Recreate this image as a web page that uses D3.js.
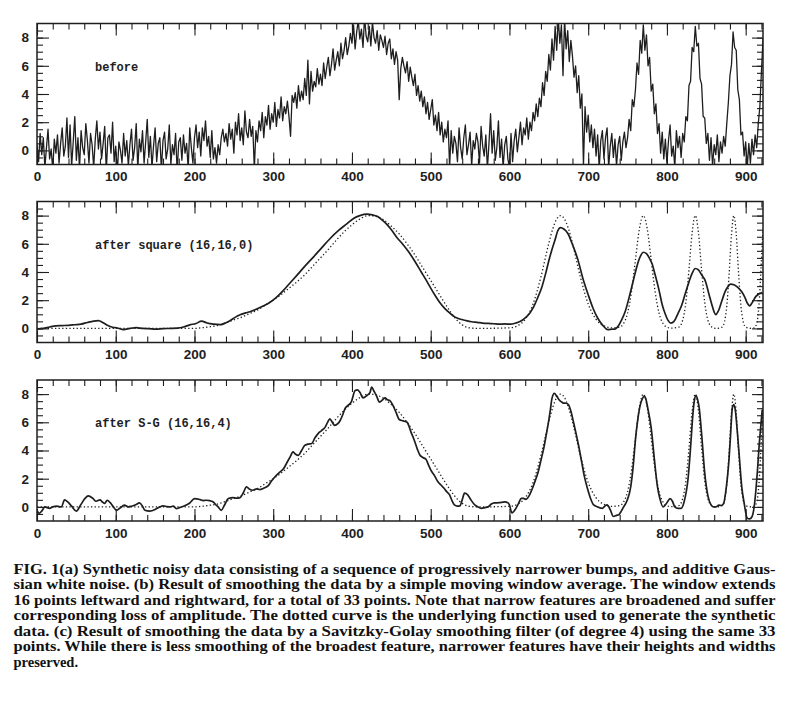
<!DOCTYPE html>
<html>
<head>
<meta charset="utf-8">
<script src="https://cdn.jsdelivr.net/npm/d3@7"></script>
<style>
  body { margin: 0; background: #fff; }
  svg { display: block; }
</style>
</head>
<body>
<svg id="chart" width="786" height="725"></svg>
<script>
// ---- datos ----
const xTickValues = [0, 100, 200, 300, 400, 500, 600, 700, 800, 900];
const yTickValues = [0, 2, 4, 6, 8];
const panelLabels = ["before", "after square (16,16,0)", "after S-G (16,16,4)"];

// datos ruidosos (panel a), una muestra cada 2 unidades desde 0
const noisyStep = 2;
const noisyData = [
  0.4, -0.8, 1.2, -0.3, 0.9, -1.2, 0.2, 1.5, -0.6, 0.1, -1.4, 0.8, -0.2, 1.1, -0.9, 0.5, 1.6, -0.4, 0.3, 2.3,
  -0.5, 1.8, -1.1, 0.6, 2.4, -0.7, 0.9, -1.3, 1.4, 0.2, -0.3, 1.9, 0.7, -0.9, 1.2, 0.4, -1.2, 0.8, 2.1, 0.1,
  1.3, -0.6, 0.5, 1.7, -1.5, 0.9, 1.1, -0.2, 2.0, -0.8, 0.3, -1.6, 0.6, 0.0, -0.9, 1.2, -0.4, 0.7, -1.1, 0.4,
  1.5, -0.7, 0.2, 1.9, -1.3, 0.8, -0.1, 1.4, -0.9, 0.6, 2.2, -0.5, 1.0, -1.2, 0.3, 1.6, -0.8, 0.5, 0.9, -1.4,
  0.7, 1.3, -0.6, 0.1, 1.8, -1.0, 0.4, -0.3, 1.2, -1.5, 0.6, 0.9, -0.7, 1.1, -0.2, 0.5, -1.3, 1.6, 0.2, -0.9,
  0.9, 1.8, 0.2, 1.3, -0.4, 1.6, 0.7, 2.1, 0.3, 1.0, -0.5, 1.4, -0.6, 0.2, -0.9, 0.4, -0.3, 0.9, 1.5, 0.6,
  1.2, 0.3, 1.9, 0.8, 1.5, -0.2, 2.0, 1.1, 2.6, 0.7, 1.6, 0.4, 2.8, 1.3, 0.9, 2.2, 1.0, 1.7, -1.3, 1.4,
  0.6, 2.1, 1.4, 2.7, 0.9, 2.4, 1.8, 3.2, 1.5, 2.6, 2.0, 3.4, 1.7, 2.9, 2.3, 3.8, 2.1, 3.1, 2.6, 3.5,
  2.4, 1.0, 3.9, 3.4, 4.1, 3.0, 4.6, 3.5, 4.2, 3.6, 5.1, 3.9, 6.4, 3.3, 5.6, 4.2, 4.9, 4.5, 5.8, 4.7,
  5.4, 4.6, 6.2, 5.1, 5.9, 6.6, 5.3, 6.1, 7.2, 5.7, 6.4, 7.0, 6.0, 7.6, 6.5, 7.1, 8.0, 6.8, 7.4, 8.3,
  7.6, 8.9, 7.2, 8.4, 9.2, 7.9, 8.6, 7.3, 9.5, 8.1, 7.7, 8.8, 7.4, 9.1, 8.0, 7.6, 8.5, 7.1, 8.2, 7.8,
  7.3, 8.1, 6.8, 7.6, 7.9, 6.5, 7.2, 6.1, 7.0, 6.4, 3.6, 5.8, 6.6, 6.0, 5.5, 6.3, 4.9, 5.9, 5.2, 4.6,
  5.4, 3.9, 4.6, 3.5, 4.2, 3.1, 3.8, 2.6, 3.4, 2.2, 2.9, 3.6, 1.8, 2.5, 1.4, 2.7, 1.1, 2.0, 0.6, 1.5,
  0.9, 2.1, -1.2, 1.4, -0.2, 1.0, 0.5, -0.8, 1.6, 0.2, -0.6, 0.9, 1.8, -0.3, 0.4, 1.3, -1.1, 0.7, 0.1, 1.2,
  0.6, -0.9, 1.7, 0.3, -0.4, 1.1, -1.3, 0.5, 2.6, -0.2, 1.4, -0.7, 0.2, 2.1, -0.5, 0.8, -1.2, 0.4, 1.0, -0.6,
  -1.2, 1.2, -0.8, 0.7, 1.5, -0.1, 0.9, 2.0, 0.4, 1.6, 1.1, 2.3, 0.8, 2.0, 1.4, 2.7, 2.1, 3.3, 2.4, 3.7,
  3.1, 4.8, 3.9, 5.6, 4.9, 6.8, 5.7, 7.9, 6.4, 8.8, 7.1, 9.4, 7.6, 8.9, 5.3, 9.3, 7.2, 8.5, 6.3, 7.8,
  6.7, 5.2, 6.0, 4.1, 5.3, 3.0, 4.0, -1.1, 3.1, 1.3, 2.5, 0.6, 1.8, 0.2, 1.5, -0.4, 1.1, -1.3, 0.7, 1.4,
  -0.6, 0.9, 1.6, -1.2, 0.3, 1.2, -0.5, 0.8, -1.1, 0.4, 1.0, -0.7, 0.6, 1.3, 0.2, 0.9, 2.2, 1.4, 3.6, 3.1,
  4.3, 6.2, 5.4, 7.8, 6.9, 8.9, 7.1, 8.2, 6.0, 6.6, 4.2, 4.7, 2.6, 3.3, 1.2, 1.9, -0.2, 1.3, -0.6, 0.8,
  -0.9, 0.7, 1.8, -0.4, 0.3, -1.2, 1.4, 0.2, 1.0, -0.5, 1.2, 0.6, 2.4, 2.1, 4.6, 4.9, 7.3, 7.0, 8.8, 7.4,
  7.6, 5.1, 4.7, 2.4, 2.3, 0.5, 1.2, -0.7, 0.9, -1.1, 0.4, -0.3, 1.1, -0.8, 0.6, -0.2, 1.0, 0.3, 1.9, 3.4,
  5.3, 6.1, 8.4, 7.3, 7.1, 4.3, 3.6, 1.1, 1.3, -0.4, 0.6, -1.2, 0.5, -0.9, 0.8, -0.3, 1.1, 0.2, 1.9, 3.1, 5.6, 7.9
];

// curva punteada: funcion subyacente [x, y]
const trueCurve = [
  [0, 0], [200, 0], [210, 0.05], [220, 0.12], [230, 0.22], [240, 0.4], [250, 0.6], [260, 0.8],
  [270, 1.05], [280, 1.3], [290, 1.65], [300, 2.0], [310, 2.4], [320, 2.85], [330, 3.3], [340, 3.8],
  [350, 4.4], [360, 5.0], [370, 5.6], [380, 6.25], [390, 6.85], [400, 7.35], [410, 7.75], [420, 8.0],
  [430, 7.95], [440, 7.7], [450, 7.25], [460, 6.7], [470, 6.0], [480, 5.2], [490, 4.3], [500, 3.4],
  [510, 2.5], [520, 1.6], [530, 0.8], [540, 0.25], [550, 0.03], [560, 0], [600, 0.04], [610, 0.18],
  [620, 0.64], [630, 1.73], [640, 3.66], [650, 6.04], [655, 7.06], [660, 7.75], [665, 8.0], [670, 7.75],
  [675, 7.06], [680, 6.04], [690, 3.66], [700, 1.73], [710, 0.64], [720, 0.18], [730, 0.04], [740, 0.09],
  [745, 0.35], [750, 1.08], [755, 2.6], [760, 4.85], [765, 7.06], [770, 8.0], [775, 7.06], [780, 4.85],
  [785, 2.6], [790, 1.08], [795, 0.35], [800, 0.09], [805, 0.02], [815, 0.09], [820, 0.59], [824, 1.84],
  [828, 4.16], [832, 6.8], [836, 8.0], [840, 6.8], [844, 4.16], [848, 1.84], [852, 0.59], [857, 0.09],
  [862, 0], [870, 0.09], [873, 0.45], [876, 1.58], [879, 3.9], [882, 6.68], [885, 8.0], [888, 6.68],
  [891, 3.9], [894, 1.58], [897, 0.45], [900, 0.09], [908, 0], [911, 0.04], [914, 0.35], [917, 1.73],
  [920, 4.85], [922, 7.06]
];

// panel b: media movil (16,16,0)
const squareCurve = [
  [0, -0.05], [8, 0.0], [16, 0.1], [24, 0.18], [32, 0.2], [40, 0.22], [48, 0.26], [56, 0.3], [64, 0.42],
  [72, 0.52], [78, 0.55], [84, 0.4], [90, 0.2], [96, 0.08], [102, 0.03], [110, -0.08], [118, 0.0],
  [126, 0.05], [134, 0.0], [142, -0.02], [151, -0.05], [160, -0.02], [170, 0.0], [178, 0.02], [186, 0.1],
  [194, 0.25], [202, 0.35], [209, 0.52], [216, 0.38], [224, 0.3], [233, 0.27], [240, 0.4], [245, 0.55],
  [252, 0.8], [258, 0.97], [265, 1.1], [272, 1.22], [279, 1.37], [288, 1.6], [296, 1.85], [304, 2.2],
  [313, 2.7], [321, 3.2], [330, 3.76], [340, 4.4], [351, 5.06], [362, 5.75], [372, 6.36], [383, 6.95],
  [393, 7.4], [402, 7.8], [410, 8.0], [419, 8.1], [426, 8.05], [432, 7.95], [438, 7.7], [444, 7.4],
  [450, 7.0], [457, 6.45], [464, 6.0], [471, 5.5], [480, 4.75], [488, 4.0], [495, 3.35], [500, 2.86],
  [506, 2.3], [512, 1.8], [518, 1.4], [525, 1.05], [531, 0.8], [538, 0.65], [545, 0.55], [552, 0.47],
  [559, 0.43], [566, 0.38], [573, 0.35], [580, 0.33], [587, 0.3], [594, 0.32], [601, 0.3], [608, 0.38],
  [614, 0.5], [620, 0.75], [626, 1.1], [631, 1.56], [636, 2.2], [641, 2.9], [646, 3.9], [650, 4.8],
  [654, 5.6], [658, 6.3], [661, 6.87], [665, 7.15], [669, 7.05], [674, 6.75], [680, 5.95], [687, 4.86],
  [693, 3.6], [700, 2.39], [706, 1.45], [712, 0.74], [718, 0.25], [725, -0.09], [730, -0.06], [734, -0.05],
  [738, 0.15], [742, 0.55], [747, 1.2], [752, 2.2], [756, 3.1], [760, 4.0], [764, 4.8], [767, 5.2],
  [770, 5.4], [774, 5.3], [778, 4.95], [781, 4.6], [785, 3.8], [790, 2.7], [794, 1.68], [798, 1.0],
  [801, 0.6], [805, 0.38], [809, 0.5], [814, 1.05], [819, 1.68], [824, 2.6], [828, 3.3], [832, 3.9],
  [836, 4.25], [840, 4.15], [844, 3.8], [849, 3.33], [853, 2.5], [857, 1.7], [860, 1.15], [862, 0.97],
  [865, 1.2], [870, 2.0], [874, 2.62], [878, 3.0], [881, 3.14], [885, 3.1], [888, 3.0], [891, 2.86],
  [895, 2.6], [899, 2.2], [902, 1.8], [905, 1.6], [908, 1.8], [913, 2.27], [917, 2.45], [921, 2.55]
];

// panel c: Savitzky-Golay (16,16,4)
const sgCurve = [
  [0, -0.3], [3, -0.45], [6, -0.3], [10, 0.0], [16, -0.1], [20, 0.0], [25, 0.05], [31, 0.0], [35, 0.5],
  [39, 0.35], [44, 0.05], [50, -0.3], [55, 0.1], [61, 0.6], [65, 0.78], [71, 0.6], [75, 0.4], [80, 0.5],
  [83, 0.35], [86, 0.24], [89, 0.47], [93, 0.3], [97, 0.0], [101, -0.24], [105, -0.1], [111, 0.12],
  [116, 0.0], [120, 0.05], [126, 0.17], [130, 0.28], [134, 0.05], [137, -0.24], [143, -0.3], [152, -0.12],
  [156, 0.0], [160, 0.07], [165, 0.02], [169, 0.0], [173, 0.05], [177, -0.12], [181, -0.05], [186, 0.05],
  [194, 0.28], [200, 0.59], [207, 0.52], [211, 0.45], [215, 0.47], [219, 0.45], [224, 0.35], [227, 0.15],
  [230, 0.0], [234, -0.24], [238, 0.12], [243, 0.59], [249, 0.66], [253, 0.62], [258, 0.66], [262, 1.0],
  [266, 1.42], [270, 1.25], [274, 1.18], [279, 1.28], [283, 1.23], [289, 1.35], [294, 1.53], [298, 1.85],
  [302, 2.12], [307, 2.4], [313, 2.7], [318, 3.2], [322, 3.6], [325, 3.9], [328, 3.75], [332, 3.65],
  [336, 4.0], [340, 4.36], [344, 4.45], [349, 4.5], [353, 4.9], [357, 5.2], [361, 5.4], [366, 5.66],
  [369, 6.0], [372, 6.25], [375, 6.0], [378, 5.78], [382, 5.9], [385, 6.13], [388, 6.5], [391, 6.96],
  [395, 7.2], [399, 7.43], [404, 8.25], [407, 8.3], [410, 8.13], [414, 7.73], [419, 7.9], [423, 8.13],
  [425, 8.5], [428, 8.2], [431, 7.9], [435, 7.43], [439, 7.6], [442, 7.73], [445, 7.6], [448, 7.55],
  [452, 7.2], [456, 6.7], [460, 6.2], [465, 6.1], [470, 6.0], [475, 5.3], [479, 4.75], [483, 4.1],
  [486, 3.7], [490, 3.5], [494, 3.38], [497, 3.0], [500, 2.62], [505, 2.2], [509, 1.8], [513, 1.55],
  [517, 1.32], [520, 1.1], [524, 0.85], [527, 0.45], [530, 0.14], [534, 0.05], [537, 0.07], [540, 0.5],
  [543, 0.97], [547, 0.85], [551, 0.5], [556, 0.14], [560, 0.0], [564, -0.1], [569, -0.05], [573, 0.0],
  [577, 0.2], [581, 0.28], [587, 0.3], [594, 0.35], [598, 0.3], [600, 0.14], [603, -0.42], [608, -0.12],
  [612, 0.3], [615, 0.61], [618, 0.6], [621, 0.54], [626, 0.9], [630, 1.44], [633, 1.9], [636, 2.38],
  [640, 3.3], [644, 4.27], [647, 5.2], [650, 6.16], [652, 6.9], [654, 7.7], [657, 8.05], [660, 7.85],
  [663, 7.6], [666, 7.45], [669, 7.36], [672, 7.35], [675, 7.25], [678, 6.8], [681, 6.1], [684, 5.36],
  [688, 4.3], [692, 3.1], [695, 2.2], [699, 1.32], [703, 0.6], [707, 0.14], [712, 0.0], [718, -0.1],
  [721, 0.05], [724, 0.14], [728, -0.2], [732, -0.68], [736, -0.6], [739, -0.55], [742, -0.3], [745, 0.0],
  [749, 0.4], [754, 1.42], [757, 2.8], [760, 4.75], [763, 6.2], [766, 7.2], [769, 7.7], [771, 7.85],
  [773, 7.7], [776, 6.9], [780, 5.6], [784, 3.4], [788, 1.42], [791, 0.6], [795, 0.0], [800, 0.3],
  [804, 0.59], [807, 0.4], [810, 0.0], [814, -0.1], [818, -0.1], [822, 0.4], [827, 2.1], [830, 4.2],
  [833, 6.6], [835, 7.6], [837, 7.9], [839, 7.6], [841, 7.0], [844, 5.2], [848, 2.4], [852, 0.8],
  [856, 0.14], [859, 0.0], [862, 0.0], [866, 0.12], [869, 0.1], [872, 0.24], [875, 1.2], [879, 3.5],
  [881, 5.3], [883, 7.0], [885, 7.25], [887, 6.8], [889, 5.6], [892, 3.5], [895, 1.42], [898, 0.3],
  [902, -0.8], [905, -0.85], [908, -0.7], [911, 0.1], [913, 1.2], [915, 2.6], [917, 4.27], [919, 5.6],
  [921, 6.9]
];

const captionLines = [
  "FIG. 1(a) Synthetic noisy data consisting of a sequence of progressively narrower bumps, and additive Gaus-",
  "sian white noise. (b) Result of smoothing the data by a simple moving window average. The window extends",
  "16 points leftward and rightward, for a total of 33 points. Note that narrow features are broadened and suffer",
  "corresponding loss of amplitude. The dotted curve is the underlying function used to generate the synthetic",
  "data. (c) Result of smoothing the data by a Savitzky-Golay smoothing filter (of degree 4) using the same 33",
  "points. While there is less smoothing of the broadest feature, narrower features have their heights and widths",
  "preserved."
];

// ---- configuracion ----
const ink = "#1e1e1e";
const plotLeft = 37, plotRight = 763;
const panelTops = [23.5, 201.5, 380];
const panelH = 141;

const svg = d3.select("#chart");
svg.append("rect").attr("width", 786).attr("height", 725).attr("fill", "#fff");

const xScale = d3.scaleLinear().domain([0, 922]).range([plotLeft, plotRight]);
const xMinor = d3.range(20, 922, 20);
const yMinor = d3.range(-0.5, 9, 0.5);

const noisyLine = (yScale) => d3.line()
  .x((d, i) => xScale(i * noisyStep))
  .y(d => yScale(d));

const smoothLine = (yScale) => d3.line()
  .x(d => xScale(d[0]))
  .y(d => yScale(d[1]))
  .curve(d3.curveMonotoneX);

function tickAxis(g, axis, transform) {
  g.append("g")
    .attr("transform", transform)
    .call(axis)
    .call(a => a.select(".domain").remove())
    .selectAll("line").attr("stroke", ink).attr("stroke-width", 1.1);
}

panelTops.forEach((top, p) => {
  const bottom = top + panelH;
  const yScale = d3.scaleLinear().domain([-1, 9]).range([bottom, top]);
  const g = svg.append("g");

  const clipId = "clip" + p;
  svg.append("clipPath").attr("id", clipId)
    .append("rect")
    .attr("x", plotLeft).attr("y", top)
    .attr("width", plotRight - plotLeft).attr("height", panelH);

  // ticks hacia dentro en los cuatro lados
  tickAxis(g, d3.axisBottom(xScale).tickValues(xMinor).tickSize(-6).tickFormat(""), `translate(0,${bottom})`);
  tickAxis(g, d3.axisBottom(xScale).tickValues(xTickValues).tickSize(-12).tickFormat(""), `translate(0,${bottom})`);
  tickAxis(g, d3.axisTop(xScale).tickValues(xMinor).tickSize(-6).tickFormat(""), `translate(0,${top})`);
  tickAxis(g, d3.axisTop(xScale).tickValues(xTickValues).tickSize(-12).tickFormat(""), `translate(0,${top})`);
  tickAxis(g, d3.axisLeft(yScale).tickValues(yMinor).tickSize(-6).tickFormat(""), `translate(${plotLeft},0)`);
  tickAxis(g, d3.axisLeft(yScale).tickValues(yTickValues).tickSize(-12).tickFormat(""), `translate(${plotLeft},0)`);
  tickAxis(g, d3.axisRight(yScale).tickValues(yMinor).tickSize(-6).tickFormat(""), `translate(${plotRight},0)`);
  tickAxis(g, d3.axisRight(yScale).tickValues(yTickValues).tickSize(-11).tickFormat(""), `translate(${plotRight},0)`);

  // etiquetas de los ejes
  const xLab = g.append("g")
    .attr("transform", `translate(0,${bottom})`)
    .call(d3.axisBottom(xScale).tickValues(xTickValues).tickSize(0).tickPadding(7));
  xLab.select(".domain").remove();
  const yLab = g.append("g")
    .attr("transform", `translate(${plotLeft},0)`)
    .call(d3.axisLeft(yScale).tickValues(yTickValues).tickSize(0).tickPadding(8));
  yLab.select(".domain").remove();
  [xLab, yLab].forEach(a => a.selectAll("text")
    .attr("fill", ink)
    .style("font-family", "'Liberation Sans', Arial, sans-serif")
    .style("font-weight", "bold")
    .style("font-size", "13.5px"));

  // curvas
  const plot = g.append("g").attr("clip-path", `url(#${clipId})`);
  if (p === 0) {
    plot.append("path")
      .datum(noisyData)
      .attr("d", noisyLine(yScale))
      .attr("fill", "none").attr("stroke", ink)
      .attr("stroke-width", 1.3).attr("stroke-linejoin", "round");
  } else {
    plot.append("path")
      .datum(trueCurve)
      .attr("d", smoothLine(yScale))
      .attr("fill", "none").attr("stroke", ink)
      .attr("stroke-width", 1.3).attr("stroke-dasharray", "1.3 2.3");
    plot.append("path")
      .datum(p === 1 ? squareCurve : sgCurve)
      .attr("d", smoothLine(yScale))
      .attr("fill", "none").attr("stroke", ink)
      .attr("stroke-width", 1.7).attr("stroke-linejoin", "round");
  }

  // marco
  g.append("rect")
    .attr("x", plotLeft).attr("y", top)
    .attr("width", plotRight - plotLeft).attr("height", panelH)
    .attr("fill", "none").attr("stroke", ink).attr("stroke-width", 1.5);

  g.append("text")
    .attr("x", 95).attr("y", top + 47)
    .attr("fill", ink)
    .style("font-family", "'Liberation Mono', 'DejaVu Sans Mono', monospace")
    .style("font-weight", "bold")
    .style("font-size", "12px")
    .text(panelLabels[p]);
});

// pie de figura
const caption = svg.append("g")
  .style("font-family", "'Liberation Serif', 'Times New Roman', serif")
  .style("font-weight", "bold")
  .style("font-size", "14.5px")
  .attr("fill", "#111");

captionLines.forEach((line, i) => {
  const t = caption.append("text")
    .attr("x", 13.5)
    .attr("y", 574 + i * 15.45)
    .text(line);
  if (i < captionLines.length - 1) {
    t.attr("textLength", 762).attr("lengthAdjust", "spacingAndGlyphs");
  }
});
</script>
</body>
</html>
